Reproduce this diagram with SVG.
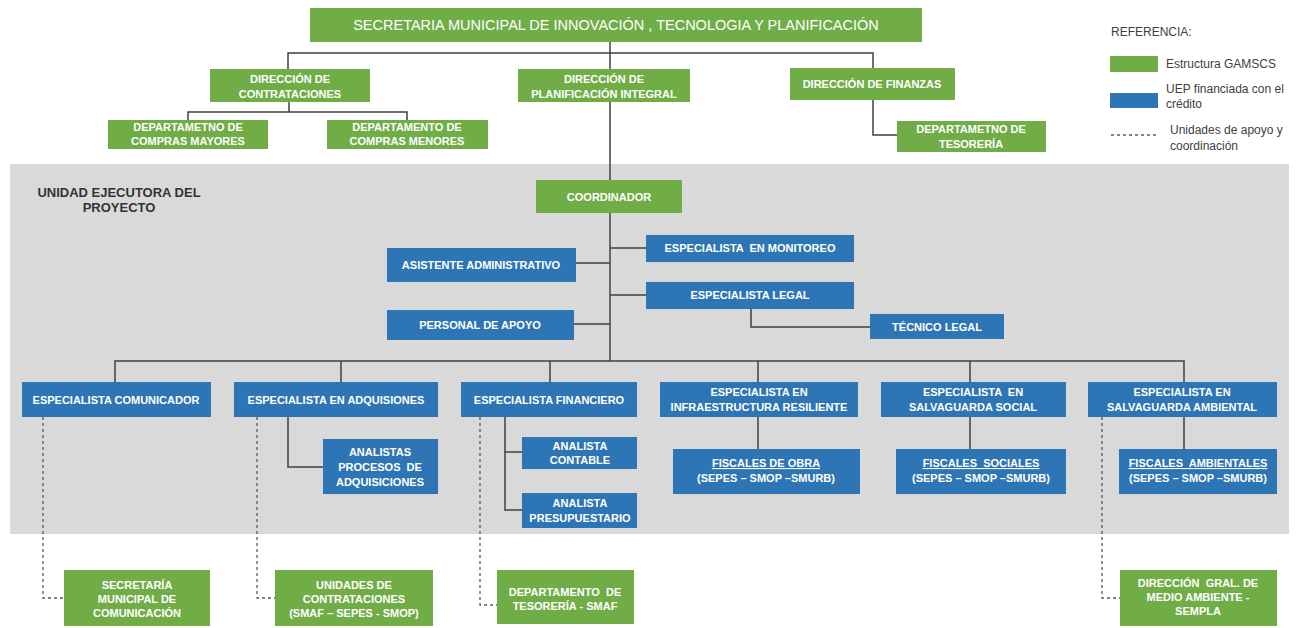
<svg xmlns="http://www.w3.org/2000/svg" width="1297" height="628" viewBox="0 0 1297 628">
<style>
.g{fill:#70ad47}
.b{fill:#2e75b6}
.t{font-family:"Liberation Sans",Arial,sans-serif;font-size:11px;font-weight:bold;fill:#ffffff;text-anchor:middle}
.lg{font-family:"Liberation Sans",Arial,sans-serif;font-size:12px;fill:#404040}
.c{stroke:#404040;stroke-width:1.5;fill:none}
.d{stroke:#595959;stroke-width:1.3;fill:none;stroke-dasharray:3 3}
.u{text-decoration:underline}
</style>
<rect width="1297" height="628" fill="#ffffff"/>
<rect id="uep-area" x="10" y="164" width="1279" height="370" fill="#d9d9d9"/>
<text x="119" y="197" font-family="Liberation Sans,Arial,sans-serif" font-size="13" font-weight="bold" fill="#333333" text-anchor="middle">UNIDAD EJECUTORA DEL</text>
<text x="119" y="212" font-family="Liberation Sans,Arial,sans-serif" font-size="13" font-weight="bold" fill="#333333" text-anchor="middle">PROYECTO</text>

<g id="connectors">
<path class="c" d="M610 42V361"/>
<path class="c" d="M288 69V53H873V68"/>
<path class="c" d="M289 102V112M188 120V112H407V120"/>
<path class="c" d="M873 100V135H897"/>
<path class="c" d="M610 248H646M576 263H610M610 295H646M574 324H610"/>
<path class="c" d="M751 309V327H870"/>
<path class="c" d="M115 382V361H1184V382M341 361V382M550 361V382M758 361V382M970 361V382"/>
<path class="c" d="M758 417V449M970 417V449M1184 417V449"/>
<path class="c" d="M288 417V467H323"/>
<path class="c" d="M505 417V510H522M505 452H522"/>
<path class="d" d="M43 417V598H64"/>
<path class="d" d="M257 417V598H275"/>
<path class="d" d="M480 417V605H497"/>
<path class="d" d="M1102 417V598H1120"/>
</g>

<g id="secretaria">
<rect class="g" x="310" y="8" width="612" height="34"/>
<text x="616" y="30" font-family="Liberation Sans,Arial,sans-serif" font-size="14.5" fill="#ffffff" text-anchor="middle">SECRETARIA MUNICIPAL DE INNOVACIÓN , TECNOLOGIA Y PLANIFICACIÓN</text>
</g>
<g id="dir-contrataciones">
<rect class="g" x="210" y="69" width="160" height="33"/>
<text class="t" x="290" y="83">DIRECCIÓN DE</text>
<text class="t" x="290" y="98">CONTRATACIONES</text>
</g>
<g id="dir-planificacion">
<rect class="g" x="518" y="69" width="172" height="33"/>
<text class="t" x="604" y="83">DIRECCIÓN DE</text>
<text class="t" x="604" y="98">PLANIFICACIÓN INTEGRAL</text>
</g>
<g id="dir-finanzas">
<rect class="g" x="790" y="68" width="165" height="32"/>
<text class="t" x="872" y="88">DIRECCIÓN DE FINANZAS</text>
</g>
<g id="compras-mayores">
<rect class="g" x="108" y="120" width="160" height="29"/>
<text class="t" x="188" y="131">DEPARTAMETNO DE</text>
<text class="t" x="188" y="145">COMPRAS MAYORES</text>
</g>
<g id="compras-menores">
<rect class="g" x="327" y="120" width="161" height="29"/>
<text class="t" x="407" y="131">DEPARTAMENTO DE</text>
<text class="t" x="407" y="145">COMPRAS MENORES</text>
</g>
<g id="tesoreria">
<rect class="g" x="897" y="121" width="149" height="31"/>
<text class="t" x="971" y="133">DEPARTAMETNO DE</text>
<text class="t" x="971" y="148">TESORERÍA</text>
</g>

<g id="legend">
<text class="lg" x="1111" y="36">REFERENCIA:</text>
<rect class="g" x="1110" y="56" width="48" height="16"/>
<text class="lg" x="1166" y="68">Estructura GAMSCS</text>
<rect class="b" x="1110" y="93" width="48" height="15"/>
<text class="lg" x="1166" y="93">UEP financiada con el</text>
<text class="lg" x="1166" y="108">crédito</text>
<path class="d" d="M1111 135H1158"/>
<text class="lg" x="1170" y="134">Unidades de apoyo y</text>
<text class="lg" x="1170" y="150">coordinación</text>
</g>

<g id="coordinador">
<rect class="g" x="536" y="180" width="146" height="33"/>
<text class="t" x="609" y="201">COORDINADOR</text>
</g>
<g id="esp-monitoreo">
<rect class="b" x="646" y="235" width="208" height="27"/>
<text class="t" x="750" y="252" xml:space="preserve">ESPECIALISTA  EN MONITOREO</text>
</g>
<g id="asistente">
<rect class="b" x="387" y="248" width="189" height="34"/>
<text class="t" x="481" y="269">ASISTENTE ADMINISTRATIVO</text>
</g>
<g id="esp-legal">
<rect class="b" x="646" y="282" width="208" height="27"/>
<text class="t" x="750" y="299">ESPECIALISTA LEGAL</text>
</g>
<g id="personal-apoyo">
<rect class="b" x="387" y="310" width="187" height="30"/>
<text class="t" x="480" y="329">PERSONAL DE APOYO</text>
</g>
<g id="tecnico-legal">
<rect class="b" x="870" y="314" width="134" height="25"/>
<text class="t" x="937" y="331">TÉCNICO LEGAL</text>
</g>

<g id="esp-comunicador">
<rect class="b" x="22" y="382" width="189" height="35"/>
<text class="t" x="116" y="404">ESPECIALISTA COMUNICADOR</text>
</g>
<g id="esp-adquisiciones">
<rect class="b" x="234" y="382" width="204" height="35"/>
<text class="t" x="336" y="404">ESPECIALISTA EN ADQUISIONES</text>
</g>
<g id="esp-financiero">
<rect class="b" x="461" y="382" width="176" height="35"/>
<text class="t" x="549" y="404">ESPECIALISTA FINANCIERO</text>
</g>
<g id="esp-infraestructura">
<rect class="b" x="660" y="382" width="198" height="35"/>
<text class="t" x="759" y="396">ESPECIALISTA EN</text>
<text class="t" x="759" y="411">INFRAESTRUCTURA RESILIENTE</text>
</g>
<g id="esp-social">
<rect class="b" x="881" y="382" width="185" height="35"/>
<text class="t" x="973" y="396" xml:space="preserve">ESPECIALISTA  EN</text>
<text class="t" x="973" y="411">SALVAGUARDA SOCIAL</text>
</g>
<g id="esp-ambiental">
<rect class="b" x="1088" y="382" width="189" height="35"/>
<text class="t" x="1182" y="396">ESPECIALISTA EN</text>
<text class="t" x="1182" y="411">SALVAGUARDA AMBIENTAL</text>
</g>

<g id="analistas-adq">
<rect class="b" x="323" y="439" width="115" height="55"/>
<text class="t" x="380" y="456">ANALISTAS</text>
<text class="t" x="380" y="471" xml:space="preserve">PROCESOS  DE</text>
<text class="t" x="380" y="486">ADQUISICIONES</text>
</g>
<g id="analista-contable">
<rect class="b" x="522" y="437" width="115" height="32"/>
<text class="t" x="580" y="450">ANALISTA</text>
<text class="t" x="580" y="464">CONTABLE</text>
</g>
<g id="analista-presupuestario">
<rect class="b" x="522" y="493" width="115" height="35"/>
<text class="t" x="580" y="507">ANALISTA</text>
<text class="t" x="580" y="522">PRESUPUESTARIO</text>
</g>
<g id="fiscales-obra">
<rect class="b" x="673" y="449" width="187" height="45"/>
<text class="t u" x="766" y="467">FISCALES DE OBRA</text>
<text class="t" x="766" y="482">(SEPES – SMOP –SMURB)</text>
</g>
<g id="fiscales-sociales">
<rect class="b" x="896" y="449" width="170" height="45"/>
<text class="t u" x="981" y="467" xml:space="preserve">FISCALES  SOCIALES</text>
<text class="t" x="981" y="482">(SEPES – SMOP –SMURB)</text>
</g>
<g id="fiscales-ambientales">
<rect class="b" x="1119" y="449" width="158" height="45"/>
<text class="t u" x="1198" y="467" xml:space="preserve">FISCALES  AMBIENTALES</text>
<text class="t" x="1198" y="482">(SEPES – SMOP –SMURB)</text>
</g>

<g id="sec-comunicacion">
<rect class="g" x="64" y="570" width="146" height="56"/>
<text class="t" x="137" y="589">SECRETARÍA</text>
<text class="t" x="137" y="603">MUNICIPAL DE</text>
<text class="t" x="137" y="617">COMUNICACIÓN</text>
</g>
<g id="unidades-contrataciones">
<rect class="g" x="275" y="570" width="158" height="56"/>
<text class="t" x="354" y="589">UNIDADES DE</text>
<text class="t" x="354" y="603">CONTRATACIONES</text>
<text class="t" x="354" y="617">(SMAF – SEPES - SMOP)</text>
</g>
<g id="tesoreria-smaf">
<rect class="g" x="497" y="570" width="137" height="54"/>
<text class="t" x="565" y="596" xml:space="preserve">DEPARTAMENTO  DE</text>
<text class="t" x="565" y="610">TESORERÍA - SMAF</text>
</g>
<g id="dir-medio-ambiente">
<rect class="g" x="1120" y="570" width="157" height="56"/>
<text class="t" x="1198" y="587" xml:space="preserve">DIRECCIÓN  GRAL. DE</text>
<text class="t" x="1198" y="601">MEDIO AMBIENTE -</text>
<text class="t" x="1198" y="615">SEMPLA</text>
</g>
</svg>
